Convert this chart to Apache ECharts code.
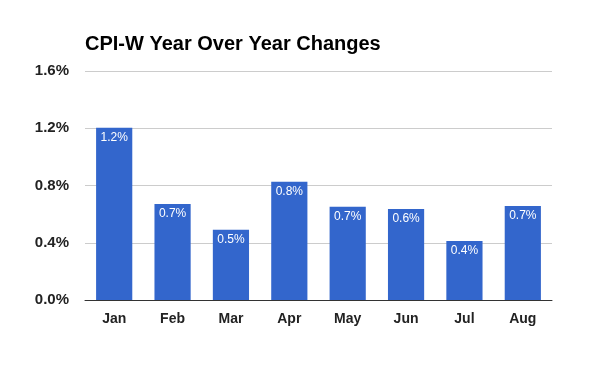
<!DOCTYPE html>
<html><head><meta charset="utf-8">
<script src="https://cdn.jsdelivr.net/npm/echarts@6/dist/echarts.min.js"></script>
<style>html,body{margin:0;padding:0;background:#fff}#c{width:600px;height:371px}</style>
</head><body><div id="c"></div>
<script>
const categories = ['Jan','Feb','Mar','Apr','May','Jun','Jul','Aug'];
const values = [1.204, 0.671, 0.491, 0.827, 0.652, 0.636, 0.412, 0.657];
const yTicks = [0, 0.4, 0.8, 1.2, 1.6];
const titleText = 'CPI-W Year Over Year Changes';

const chart = echarts.init(document.getElementById('c'), null, {renderer:'canvas'});
chart.setOption({
  animation:false,
  title:{text:titleText,left:80,top:29,textStyle:{fontFamily:'Liberation Sans, Arial',fontSize:20,fontWeight:'bold',color:'#000'}},
  grid:{left:85,right:48,top:71,bottom:71},
  xAxis:{type:'category',data:categories,
    axisLine:{lineStyle:{color:'#333',width:1}},axisTick:{show:false},
    axisLabel:{fontFamily:'Liberation Sans, Arial',fontSize:14,fontWeight:'bold',color:'#222',margin:12}},
  yAxis:{type:'value',min:yTicks[0],max:yTicks[yTicks.length-1],interval:0.4,
    axisLine:{show:false},axisTick:{show:false},
    splitLine:{lineStyle:{color:'#ccc'}},
    axisLabel:{fontFamily:'Liberation Sans, Arial',fontSize:15,fontWeight:'bold',color:'#222',margin:16,
      formatter:v=>v.toFixed(1)+'%'}},
  series:[{type:'bar',data:values,barWidth:'62%',itemStyle:{color:'#3366cc'},
    label:{show:true,position:'insideTop',distance:4,color:'#fff',fontFamily:'Liberation Sans, Arial',fontSize:12,
      formatter:p=>p.value.toFixed(1)+'%'}}]
});
</script></body></html>
